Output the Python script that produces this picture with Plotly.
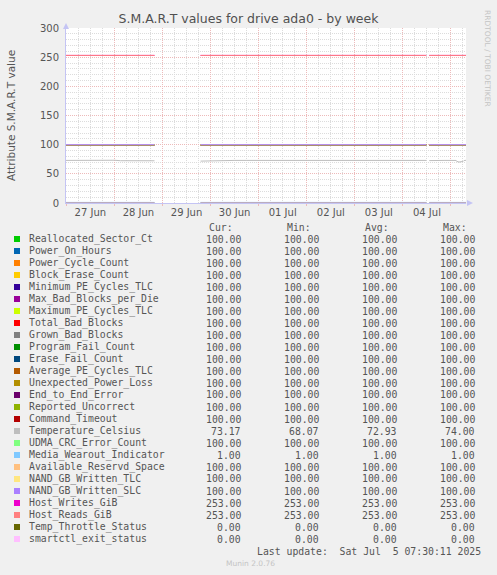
import plotly.graph_objects as go

# S.M.A.R.T attributes in legend order (munin palette)
names = [
    "Reallocated_Sector_Ct", "Power_On_Hours", "Power_Cycle_Count", "Block_Erase_Count",
    "Minimum_PE_Cycles_TLC", "Max_Bad_Blocks_per_Die", "Maximum_PE_Cycles_TLC",
    "Total_Bad_Blocks", "Grown_Bad_Blocks", "Program_Fail_Count", "Erase_Fail_Count",
    "Average_PE_Cycles_TLC", "Unexpected_Power_Loss", "End_to_End_Error",
    "Reported_Uncorrect", "Command_Timeout", "Temperature_Celsius", "UDMA_CRC_Error_Count",
    "Media_Wearout_Indicator", "Available_Reservd_Space", "NAND_GB_Written_TLC",
    "NAND_GB_Written_SLC", "Host_Writes_GiB", "Host_Reads_GiB", "Temp_Throttle_Status",
    "smartctl_exit_status",
]
colors = [
    "#00CC00", "#0066B3", "#FF8000", "#FFCC00", "#330099", "#990099", "#CCFF00",
    "#FF0000", "#808080", "#008F00", "#00487D", "#B35A00", "#B38F00", "#6B006B",
    "#8FB300", "#B30000", "#BEBEBE", "#80FF80", "#80C9FF", "#FFC080", "#FFE680",
    "#AA80FF", "#EE00CC", "#FF8080", "#666600", "#FFBFFF",
]
cur = [100, 100, 100, 100, 100, 100, 100, 100, 100, 100, 100, 100, 100, 100,
       100, 100, 73.17, 100, 1, 100, 100, 100, 253, 253, 0, 0]
mins = [100, 100, 100, 100, 100, 100, 100, 100, 100, 100, 100, 100, 100, 100,
        100, 100, 68.07, 100, 1, 100, 100, 100, 253, 253, 0, 0]
avgs = [100, 100, 100, 100, 100, 100, 100, 100, 100, 100, 100, 100, 100, 100,
        100, 100, 72.93, 100, 1, 100, 100, 100, 253, 253, 0, 0]
maxs = [100, 100, 100, 100, 100, 100, 100, 100, 100, 100, 100, 100, 100, 100,
        100, 100, 74.00, 100, 1, 100, 100, 100, 253, 253, 0, 0]

# periods with data (the rest is unknown)
segments = [
    ("2025-06-26 23:50", "2025-06-28 20:00"),
    ("2025-06-29 19:00", "2025-07-04 11:40"),
    ("2025-07-04 13:10", "2025-07-05 07:30"),
]

# temperature readings
temp_times = [
    "2025-06-26 23:50", "2025-06-27 03:00", "2025-06-27 06:00", "2025-06-27 09:00",
    "2025-06-27 12:00", "2025-06-27 15:00", "2025-06-27 18:00", "2025-06-27 21:00",
    "2025-06-28 00:00", "2025-06-28 03:00", "2025-06-28 06:00", "2025-06-28 09:00",
    "2025-06-28 12:00", "2025-06-28 15:00", "2025-06-28 18:00", "2025-06-28 20:00",
    "2025-06-28 20:10",
    "2025-06-29 19:00", "2025-06-29 21:00", "2025-06-30 00:00", "2025-06-30 06:00",
    "2025-06-30 12:00", "2025-06-30 18:00", "2025-07-01 00:00", "2025-07-01 06:00",
    "2025-07-01 12:00", "2025-07-01 18:00", "2025-07-02 00:00", "2025-07-02 06:00",
    "2025-07-02 12:00", "2025-07-02 18:00", "2025-07-03 00:00", "2025-07-03 03:00",
    "2025-07-03 06:00", "2025-07-03 09:00", "2025-07-03 12:00", "2025-07-03 18:00",
    "2025-07-04 00:00", "2025-07-04 06:00", "2025-07-04 11:40",
    "2025-07-04 11:50",
    "2025-07-04 13:10", "2025-07-04 15:00", "2025-07-04 18:00", "2025-07-04 21:00",
    "2025-07-05 00:00", "2025-07-05 02:30", "2025-07-05 03:00", "2025-07-05 04:00",
    "2025-07-05 05:00", "2025-07-05 06:00", "2025-07-05 06:30", "2025-07-05 07:30",
]
temp_values = [
    73.0, 73.0, 73.0, 73.8, 73.1, 73.0, 73.0, 73.0,
    73.3, 72.5, 72.4, 72.4, 72.4, 72.4, 72.4, 72.4,
    None,
    71.8, 72.0, 73.0, 73.4, 73.0, 73.0, 73.0, 73.0,
    73.0, 73.0, 73.0, 73.2, 73.0, 73.0, 72.8, 73.4,
    72.9, 73.3, 73.0, 73.0, 73.0, 73.0, 73.0,
    None,
    72.7, 73.0, 73.0, 73.0, 73.0, 72.9, 71.3, 70.2,
    70.8, 71.0, 72.8, 73.2,
]

day_marks = ["2025-06-27", "2025-06-28", "2025-06-29", "2025-06-30", "2025-07-01",
             "2025-07-02", "2025-07-03", "2025-07-04", "2025-07-05"]
label_times = ["2025-06-27 12:00", "2025-06-28 12:00", "2025-06-29 12:00",
               "2025-06-30 12:00", "2025-07-01 12:00", "2025-07-02 12:00",
               "2025-07-03 12:00", "2025-07-04 12:00"]
day_labels = ["27 Jun", "28 Jun", "29 Jun", "30 Jun", "01 Jul", "02 Jul", "03 Jul", "04 Jul"]

x_range = ["2025-06-26 23:50", "2025-07-05 07:30"]

W, H = 497, 575
L, R, T, B = 66, 31, 28, 372
PW, PH = W - L - R, H - T - B


def px(x):
    return (x - L) / PW


def py(y):
    return 1 - (y - T) / PH


GRAY = "#555555"
MONO = "DejaVu Sans Mono"
SANS = "DejaVu Sans"
MAJOR = "#EDBABA"
MINOR = "#DCDCDC"

fig = go.Figure()

for i, name in enumerate(names):
    if name == "Temperature_Celsius":
        xs, ys = temp_times, temp_values
    else:
        xs, ys = [], []
        for s0, s1 in segments:
            xs += [s0, s1, None]
            ys += [cur[i], cur[i], None]
    fig.add_trace(go.Scatter(
        x=xs, y=ys, mode="lines", name=name,
        line=dict(color=colors[i], width=1),
        connectgaps=False, showlegend=False, hoverinfo="skip",
    ))

# invisible trace so the label axis gets drawn
fig.add_trace(go.Scatter(x=x_range, y=[None, None], xaxis="x2", showlegend=False,
                         hoverinfo="skip", mode="lines"))

fig.update_layout(
    width=W, height=H,
    margin=dict(l=L, r=R, t=T, b=B),
    paper_bgcolor="#F0F0F0",
    plot_bgcolor="white",
    title=dict(text="S.M.A.R.T values for drive ada0 - by week", x=0.5, xref="container",
               xanchor="center", y=1 - 19 / H, yref="container", yanchor="middle",
               font=dict(family=SANS, size=12.5, color="#505050")),
    xaxis=dict(
        type="date", range=x_range,
        tickvals=day_marks, ticktext=[""] * len(day_marks),
        showgrid=True, gridcolor=MAJOR, griddash="1px,1px", gridwidth=1,
        ticks="outside", ticklen=2, tickcolor=MAJOR,
        minor=dict(dtick=6 * 3600 * 1000, tick0="2025-06-27", showgrid=True,
                   gridcolor=MINOR, griddash="1px,1px", gridwidth=1),
        showline=True, linecolor="#C4C4F4", linewidth=1,
        zeroline=False, layer="below traces", fixedrange=True,
    ),
    xaxis2=dict(
        type="date", range=x_range, overlaying="x", anchor="y", side="bottom",
        tickvals=label_times, ticktext=day_labels, showgrid=False, ticks="",
        tickfont=dict(family=SANS, size=10, color=GRAY), showline=False, zeroline=False,
        ticklabelstandoff=2,
    ),
    yaxis=dict(
        range=[0, 300], tickvals=[0, 50, 100, 150, 200, 250, 300],
        showgrid=True, gridcolor=MAJOR, griddash="1px,1px", gridwidth=1,
        minor=dict(dtick=10, showgrid=True, gridcolor=MINOR, griddash="1px,1px",
                   gridwidth=1),
        tickfont=dict(family=SANS, size=10, color=GRAY),
        showline=True, linecolor="#C4C4F4", linewidth=1,
        zeroline=False, layer="below traces", ticks="", ticklabelstandoff=4,
    ),
)

ann = []
# y axis title
ann.append(dict(text="Attribute S.M.A.R.T value", x=px(11), y=py(115), xref="paper",
                yref="paper", textangle=-90, showarrow=False, xanchor="center",
                yanchor="middle", font=dict(family=SANS, size=10.5, color=GRAY)))
# side credit
ann.append(dict(text="RRDTOOL / TOBI OETIKER", x=px(488), y=py(58), xref="paper",
                yref="paper", textangle=90, showarrow=False, xanchor="center",
                yanchor="middle", font=dict(family=SANS, size=7.5, color="#C4C4C4")))

# legend table
cols_right = [243, 321, 399, 477]
headers = ["Cur:", "Min:", "Avg:", "Max:"]
for h, xr in zip(headers, cols_right):
    ann.append(dict(text=h, x=px(xr - 8), y=py(227), xref="paper", yref="paper",
                    showarrow=False, xanchor="right", yanchor="middle",
                    font=dict(family=MONO, size=9.8, color=GRAY)))

shapes = []
for i, name in enumerate(names):
    yy = 239 + 12 * i
    shapes.append(dict(type="rect", xref="paper", yref="paper",
                       x0=px(14), x1=px(20), y0=py(yy + 3), y1=py(yy - 3),
                       fillcolor=colors[i], line=dict(width=0)))
    ann.append(dict(text=name, x=px(27), y=py(yy), xref="paper", yref="paper",
                    showarrow=False, xanchor="left", yanchor="middle",
                    font=dict(family=MONO, size=9.8, color=GRAY)))
    for vals, xr in zip([cur, mins, avgs, maxs], cols_right):
        ann.append(dict(text=f"{vals[i]:.2f}", x=px(xr), y=py(yy), xref="paper",
                        yref="paper", showarrow=False, xanchor="right", yanchor="middle",
                        font=dict(family=MONO, size=9.8, color=GRAY)))

ann.append(dict(text="Last update:\u00a0 Sat Jul\u00a0 5 07:30:11 2025", x=px(483), y=py(551),
                xref="paper", yref="paper", showarrow=False, xanchor="right",
                yanchor="middle", font=dict(family=MONO, size=9.8, color=GRAY)))
ann.append(dict(text="Munin 2.0.76", x=px(250), y=py(563), xref="paper", yref="paper",
                showarrow=False, xanchor="center", yanchor="middle",
                font=dict(family=SANS, size=7.5, color="#C4C4C4")))

# axis arrows
shapes.append(dict(type="path", xref="paper", yref="paper", fillcolor="#C4C4F4",
                   line=dict(width=0),
                   path=f"M {px(63)} {py(29)} L {px(69)} {py(29)} L {px(66)} {py(23)} Z"))
shapes.append(dict(type="path", xref="paper", yref="paper", fillcolor="#C4C4F4",
                   line=dict(width=0),
                   path=f"M {px(467)} {py(200)} L {px(467)} {py(206)} L {px(473)} {py(203)} Z"))

fig.update_layout(annotations=ann, shapes=shapes)

fig.write_html("out.html", config={"displayModeBar": False},
               post_script="document.body.style.margin='0';")
